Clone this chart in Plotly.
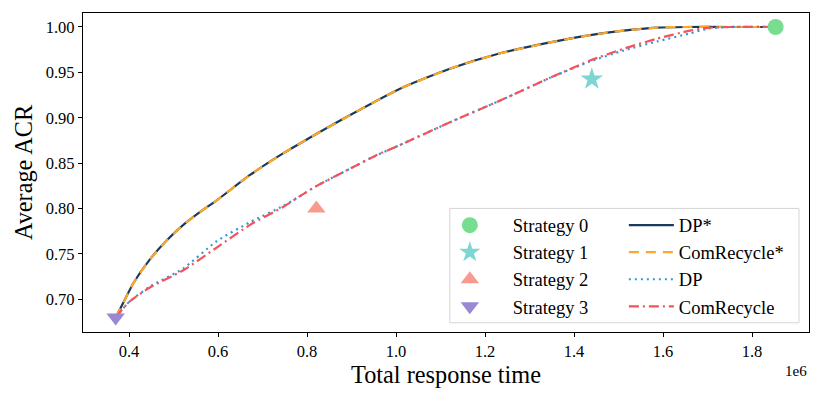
import plotly.graph_objects as go

# ---- data (x in units of 1e6) ----
upper_x = [0.37, 0.39, 0.41, 0.447, 0.485, 0.522, 0.559, 0.597, 0.672, 0.747, 0.785, 0.897,
           1.009, 1.121, 1.234, 1.346, 1.436, 1.511, 1.586, 1.65, 1.75, 1.853]
dpstar_y = [0.68, 0.699, 0.718, 0.744, 0.765, 0.782, 0.796, 0.809, 0.837, 0.861, 0.872, 0.903,
            0.932, 0.954, 0.971, 0.983, 0.991, 0.996, 0.9993, 1.0, 1.0, 1.0]
comrecstar_y = dpstar_y

lower_x = [0.37, 0.40, 0.447, 0.522, 0.597, 0.672, 0.747, 0.785, 0.822, 0.897, 0.953, 1.009,
           1.121, 1.234, 1.346, 1.436, 1.511, 1.586, 1.661, 1.698, 1.75, 1.853]
comrec_y = [0.68, 0.697, 0.713, 0.732, 0.757, 0.782, 0.802, 0.814, 0.825, 0.844, 0.858, 0.870,
            0.895, 0.919, 0.944, 0.963, 0.976, 0.987, 0.996, 0.999, 1.0, 1.0]
dp_y = [0.68, 0.697, 0.714, 0.734, 0.764, 0.785, 0.803, 0.814, 0.825, 0.844, 0.858, 0.870,
        0.895, 0.919, 0.944, 0.962, 0.974, 0.984, 0.993, 0.998, 1.0, 1.0]

strategy_names = ["Strategy 0", "Strategy 1", "Strategy 2", "Strategy 3"]
strategy_x = [1.853, 1.44, 0.821, 0.37]
strategy_y = [1.0, 0.9425, 0.80, 0.68]
strategy_symbols = ["circle", "star", "triangle-up", "triangle-down"]
strategy_colors = ["#77DD8F", "#7ED6D3", "#F99A8E", "#9B88D2"]

xtick_vals = [0.4, 0.6, 0.8, 1.0, 1.2, 1.4, 1.6, 1.8]
ytick_vals = [0.70, 0.75, 0.80, 0.85, 0.90, 0.95, 1.00]

SCALE = 1e6
FONT = "Liberation Serif, Times New Roman, serif"

fig = go.Figure()

lines = [
    ("DP*", upper_x, dpstar_y, "#183A5E", "solid"),
    ("ComRecycle*", upper_x, comrecstar_y, "#FFA726", "10px,7px"),
    ("DP", lower_x, dp_y, "#2E9AD8", "2px,4px"),
    ("ComRecycle", lower_x, comrec_y, "#F5525A", "10px,4px,2px,4px"),
]
for name, xs, ys, color, dash in lines:
    fig.add_trace(go.Scatter(
        x=[v * SCALE for v in xs], y=ys, mode="lines", name=name, legend="legend2",
        line=dict(color=color, width=2.2, dash=dash, shape="spline", smoothing=0.6)))

for n, x, y, s, c in zip(strategy_names, strategy_x, strategy_y,
                         strategy_symbols, strategy_colors):
    fig.add_trace(go.Scatter(
        x=[x * SCALE], y=[y], mode="markers", name=n, legend="legend",
        marker=dict(symbol=s, color=c, size=16 if s != "star" else 17, line=dict(width=0))))

leg_common = dict(orientation="v", yanchor="top", xanchor="left",
                  bgcolor="rgba(0,0,0,0)", borderwidth=0,
                  font=dict(family=FONT, size=18.5, color="black"),
                  traceorder="normal")

fig.update_layout(
    width=822, height=386,
    margin=dict(l=75, r=20.7, t=5, b=62, autoexpand=False),
    paper_bgcolor="white", plot_bgcolor="white",
    font=dict(family=FONT, color="black", size=16.5),
    showlegend=True,
    legend=dict(x=0.4736, y=0.393, itemwidth=76, **leg_common),
    legend2=dict(x=0.745, y=0.393, itemwidth=45, **leg_common),
    shapes=[dict(type="rect", xref="paper", yref="paper",
                 x0=0.5053, x1=0.9862, y0=0.029, y1=0.3874,
                 fillcolor="white", line=dict(color="#D5D5D5", width=1), layer="above")],
    xaxis=dict(
        range=[0.2966 * SCALE, 1.928 * SCALE], automargin=False,
        tickvals=[v * SCALE for v in xtick_vals],
        ticktext=[f"{v:.1f}" for v in xtick_vals],
        showline=True, mirror=True, linecolor="black", linewidth=1.2,
        ticks="outside", ticklen=4, tickcolor="black", tickwidth=1,
        showgrid=False, zeroline=False,
        tickfont=dict(family=FONT, size=16.5),
        title=dict(text="Total response time", font=dict(family=FONT, size=24.3), standoff=4),
    ),
    yaxis=dict(
        range=[0.664, 1.0154], automargin=False,
        tickvals=ytick_vals,
        ticktext=[f"{v:.2f}" for v in ytick_vals],
        showline=True, mirror=True, linecolor="black", linewidth=1.2,
        ticks="outside", ticklen=4, tickcolor="black", tickwidth=1,
        showgrid=False, zeroline=False,
        tickfont=dict(family=FONT, size=16.5),
        title=dict(text="Average ACR", font=dict(family=FONT, size=24.3), standoff=6),
    ),
    annotations=[dict(text="1e6", xref="paper", yref="paper", x=1.0, y=-0.09,
                      xanchor="right", yanchor="top", showarrow=False,
                      font=dict(family=FONT, size=15))],
)

fig.write_html("out.html")
